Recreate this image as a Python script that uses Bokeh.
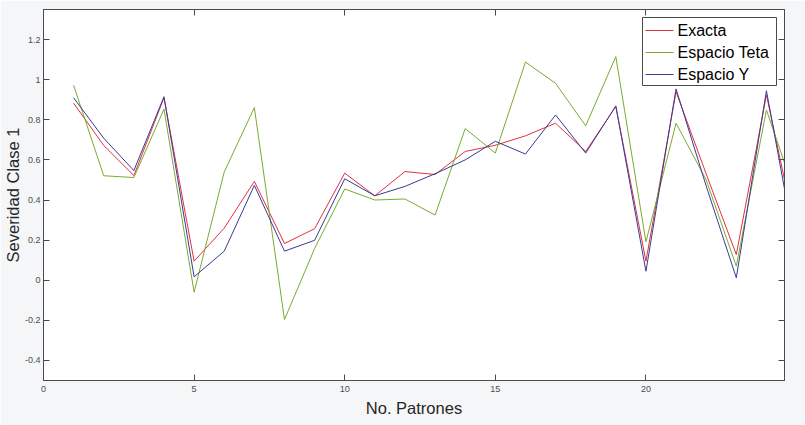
from bokeh.plotting import figure
from bokeh.models import Range1d, FixedTicker, LinearAxis
from bokeh.core.properties import value
from bokeh.embed import file_html
from bokeh.resources import INLINE

patrones = list(range(1, 26))
exacta = [0.883, 0.672, 0.522, 0.91, 0.095, 0.26, 0.493, 0.183, 0.257, 0.534,
          0.421, 0.542, 0.527, 0.642, 0.673, 0.72, 0.783, 0.642, 0.866, 0.095,
          0.94, 0.53, 0.128, 0.924, 0.22]
teta = [0.972, 0.521, 0.512, 0.853, -0.06, 0.54, 0.861, -0.196, 0.158, 0.455,
        0.40, 0.405, 0.325, 0.756, 0.634, 1.088, 0.982, 0.77, 1.115, 0.191,
        0.783, 0.50, 0.07, 0.849, 0.41]
espy = [0.91, 0.708, 0.547, 0.915, 0.017, 0.145, 0.473, 0.145, 0.199, 0.506,
        0.421, 0.468, 0.531, 0.60, 0.693, 0.629, 0.824, 0.634, 0.869, 0.045,
        0.954, 0.47, 0.012, 0.945, 0.13]

series_names = ["Exacta", "Espacio Teta", "Espacio Y"]
series_colors = ["#e0303f", "#77ac30", "#3a3a94"]

x_ticks = [0, 5, 10, 15, 20]
y_ticks = [-0.4, -0.2, 0, 0.2, 0.4, 0.6, 0.8, 1, 1.2]
y_labels = ["-0.4", "-0.2", "0", "0.2", "0.4", "0.6", "0.8", "1", "1.2"]

FONT = "Liberation Sans"
AXC = "#4a4a4a"

X0, X1 = 0, 24.6
Y0, Y1 = -0.5, 1.35
# frame placement in pixels (left, top, right, bottom)
FL, FT, FR, FB = 43, 9, 784, 380
W, H = 805, 425

p = figure(width=W, height=H, output_backend="svg", toolbar_location=None,
           x_range=Range1d(X0, X1), y_range=Range1d(Y0, Y1),
           min_border_left=FL, min_border_top=FT, min_border_right=W - FR,
           min_border_bottom=H - FB)
p.background_fill_color = "white"
p.border_fill_color = "#f5f6f8"
p.outline_line_color = AXC
p.grid.visible = False

for ys, c in zip([exacta, teta, espy], series_colors):
    p.line(patrones, ys, line_color=c, line_width=1)

def style(ax, ticks):
    ax.ticker = FixedTicker(ticks=ticks)
    ax.major_tick_in = 6
    ax.major_tick_out = 0
    ax.minor_tick_in = 0
    ax.minor_tick_out = 0
    ax.axis_line_color = AXC
    ax.major_tick_line_color = AXC
    ax.major_label_text_font = FONT
    ax.major_label_text_font_size = "9px"
    ax.major_label_text_color = "#4d4d4d"
    ax.axis_label_text_font = FONT
    ax.axis_label_text_font_size = "16.5px"
    ax.axis_label_text_font_style = "normal"
    ax.axis_label_text_color = "#262626"

style(p.xaxis[0], x_ticks)
style(p.yaxis[0], y_ticks)
p.xaxis[0].axis_label = "No. Patrones"
p.yaxis[0].axis_label = "Severidad Clase 1"
p.yaxis[0].major_label_overrides = {t: l for t, l in zip(y_ticks, y_labels)}
p.xaxis[0].major_label_standoff = 5
p.yaxis[0].major_label_standoff = 3
p.xaxis[0].axis_label_standoff = 4
p.yaxis[0].axis_label_standoff = 0

top = LinearAxis()
right = LinearAxis()
style(top, x_ticks)
style(right, y_ticks)
for ax in (top, right):
    ax.major_label_text_font_size = "0px"
    ax.major_label_standoff = 0
    ax.major_label_text_alpha = 0
p.add_layout(top, "above")
p.add_layout(right, "right")

# ---- legend (drawn manually, positioned in pixels of the frame) ----
def px2x(px):
    return X0 + (px - FL) / (FR - FL) * (X1 - X0)

def py2y(py):
    return Y1 - (py - FT) / (FB - FT) * (Y1 - Y0)

LB_L, LB_R, LB_T, LB_B = 642, 776, 17, 85
p.quad(left=[px2x(LB_L)], right=[px2x(LB_R)], top=[py2y(LB_T)], bottom=[py2y(LB_B)],
       fill_color="white", line_color=AXC, line_width=1, level="annotation")
row_y = [30, 52, 74]
p.segment(x0=[px2x(645)] * 3, x1=[px2x(673)] * 3,
          y0=[py2y(v) for v in row_y], y1=[py2y(v) for v in row_y],
          line_color=series_colors, line_width=1, level="overlay")
p.text(x=[px2x(677)] * 3, y=[py2y(v) for v in row_y], text=series_names,
       text_font=value(FONT), text_font_size="16px", text_color="black",
       text_baseline="middle", text_align="left", level="overlay")

open("out.html", "w").write(file_html(p, INLINE))
